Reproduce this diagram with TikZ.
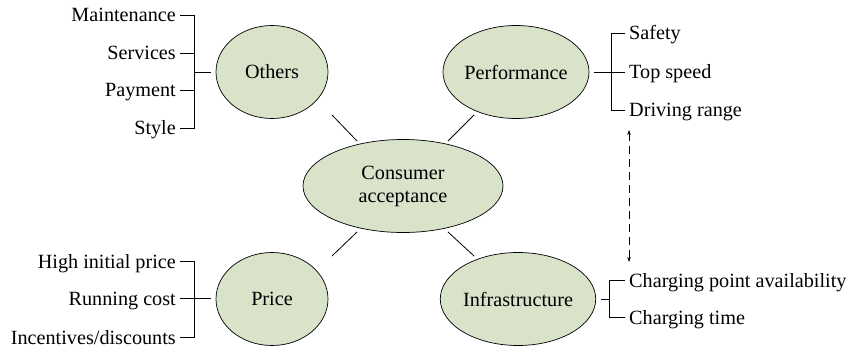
\documentclass[tikz,border=0pt]{standalone}
\usepackage{fontspec}
\setmainfont{Liberation Serif}
\usetikzlibrary{shapes.geometric,arrows.meta}
\definecolor{ellfill}{HTML}{D8E3CA}
\begin{document}
\begin{tikzpicture}[x=1pt,y=-1pt,
  ell/.style={ellipse,draw,fill=ellfill,line width=0.7pt,inner sep=0pt,
    font=\fontsize{20.2}{24}\selectfont,align=center,minimum height=93},
  lbl/.style={font=\fontsize{20.2}{24}\selectfont,inner sep=0pt,text height=14pt,text depth=0pt},
  ln/.style={line width=0.8pt}]
\useasboundingbox (0,0) rectangle (853,347);
% ellipses
\node[ell,minimum width=112] (oth) at (272,72) {Others};
\node[ell,minimum width=146] (perf) at (516,72) {Performance};
\node[ell,minimum width=200] (ca) at (403,186) {Consumer\\[-1pt]acceptance};
\node[ell,minimum width=112] (price) at (272,299) {Price};
\node[ell,minimum width=150] (infra) at (518,299) {Infrastructure};
% hub connectors (free-standing short segments between the ellipses)
\coordinate (h1a) at (332,115); \coordinate (h1b) at (357,141);
\coordinate (h2a) at (474,115); \coordinate (h2b) at (448,141);
\coordinate (h3a) at (332,256); \coordinate (h3b) at (357,232);
\coordinate (h4a) at (474,256); \coordinate (h4b) at (448,232);
\draw[ln] (h1a) -- (h1b);
\draw[ln] (h2a) -- (h2b);
\draw[ln] (h3a) -- (h3b);
\draw[ln] (h4a) -- (h4b);
% Others labels
\node[lbl,anchor=east] (m1) at (176,15) {Maintenance};
\node[lbl,anchor=east] (m2) at (176,53) {Services};
\node[lbl,anchor=east] (m3) at (176,90) {Payment};
\node[lbl,anchor=east] (m4) at (176,128) {Style};
\coordinate (ob) at (194,72);
\draw[ln] ([xshift=4]m1.east) -- (m1.east -| ob) -- (m4.east -| ob) -- ([xshift=4]m4.east);
\draw[ln] ([xshift=4]m2.east) -- (m2.east -| ob);
\draw[ln] ([xshift=4]m3.east) -- (m3.east -| ob);
\draw[ln,shorten >=5pt] (ob) -- (oth.west);
% Performance labels
\node[lbl,anchor=west] (p1) at (629,33) {Safety};
\node[lbl,anchor=west] (p2) at (629,72) {Top speed};
\node[lbl,anchor=west] (p3) at (629,110) {Driving range};
\coordinate (pb) at (611,72);
\draw[ln] ([xshift=-4]p1.west) -- (p1.west -| pb) -- (p3.west -| pb) -- ([xshift=-4]p3.west);
\draw[ln] ([xshift=-4]p2.west) -- (pb);
\draw[ln,shorten >=5pt] (pb) -- (perf.east);
% Price labels
\node[lbl,anchor=east] (r1) at (176,261) {High initial price};
\node[lbl,anchor=east] (r2) at (176,298) {Running cost};
\node[lbl,anchor=east] (r3) at (176,337) {Incentives/discounts};
\coordinate (rb) at (194,298);
\draw[ln] ([xshift=4]r1.east) -- (r1.east -| rb) -- (r3.east -| rb) -- ([xshift=4]r3.east);
\draw[ln] ([xshift=4]r2.east) -- (rb);
\draw[ln,shorten >=5pt] (rb) -- (price.west |- rb);
% Infrastructure labels
\node[lbl,anchor=west] (i1) at (629,280) {Charging point availability};
\node[lbl,anchor=west] (i2) at (629,317) {Charging time};
\coordinate (ib) at (609,299);
\draw[ln] ([xshift=-4]i1.west) -- (i1.west -| ib) -- (i2.west -| ib) -- ([xshift=-4]i2.west);
\draw[ln,shorten >=5pt] (ib) -- (infra.east |- ib);
% dashed double arrow
\coordinate (dtop) at (629,130);
\coordinate (dbot) at (629,262);
\draw[line width=0.7pt,dash pattern=on 8pt off 5pt,{Stealth[length=5pt,width=3.5pt]}-{Stealth[length=5pt,width=3.5pt]}] (dtop) -- (dbot);
\end{tikzpicture}
\end{document}
